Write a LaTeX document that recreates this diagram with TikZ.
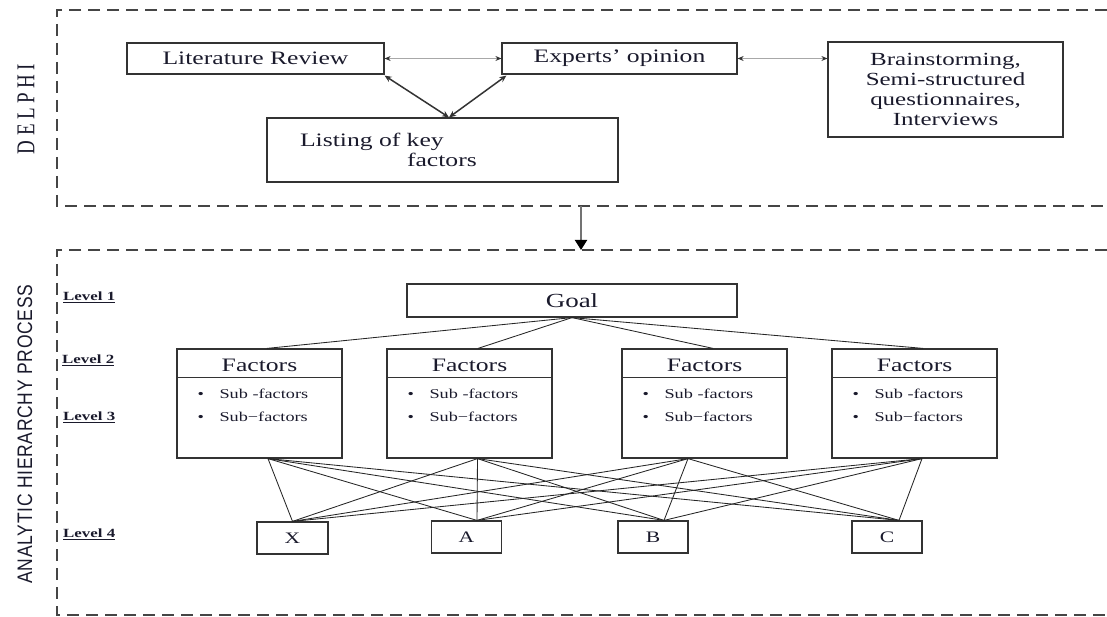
\documentclass[tikz,border=0pt]{standalone}
\usepackage{graphicx}
\usepackage{fontspec}
\setmainfont{Liberation Serif}[FakeStretch=1.35]
\newfontfamily\plainserif{Liberation Serif}
\newfontfamily\ahpsans{Liberation Sans}
\usetikzlibrary{arrows.meta}
\definecolor{ink}{HTML}{1A1A2C}
\definecolor{edgec}{HTML}{333333}
\definecolor{dashc}{HTML}{454545}
\definecolor{lightarr}{HTML}{A8A8A8}
\begin{document}
\begin{tikzpicture}[x=1pt,y=-1pt,
  every node/.style={text=ink},
  box/.style={draw=edgec, line width=1.2pt, inner sep=0pt},
  boxline/.style={draw=edgec, line width=1.2pt},
  sect/.style={draw=dashc, line width=1.1pt, dash pattern=on 12pt off 7pt},
  big/.style={font=\fontsize{19}{22}\selectfont},
  subtxt/.style={font=\fontsize{13.5}{23}\selectfont, align=left, inner sep=0pt},
  leaf/.style={font=\fontsize{16}{18}\selectfont},
  lvl/.style={font=\bfseries\fontsize{12.5}{14}\selectfont, inner sep=0pt},
  conn/.style={draw=black!85, line width=0.85pt},
  grayarr/.style={draw=lightarr, line width=1.2pt, {Stealth[length=6pt,width=5pt,color=black!80]}-{Stealth[length=6pt,width=5pt,color=black!80]}},
  darkarr/.style={draw=edgec, line width=1.5pt, {Stealth[length=7pt,width=6pt]}-{Stealth[length=7pt,width=6pt]}},
  downarr/.style={draw=black!55, line width=2pt, -{Triangle[length=10pt,width=12pt,color=black]}}
]
\useasboundingbox (0,0) rectangle (1107,617);

% section frames
\draw[sect] (1107,10) -- (57,10) -- (57,206) -- (1107,206);
\draw[sect] (1107,250) -- (57,250) -- (57,615) -- (1107,615);

% side titles
\node[rotate=90, inner sep=0pt] (delphi) at (26,109)
  {\scalebox{1}[1.35]{\plainserif\fontsize{19}{21}\selectfont D\kern4.5pt E\kern4.5pt L\kern4.5pt P\kern4.5pt H\kern4.5pt I}};
\node[rotate=90, inner sep=0pt] (ahp) at (25,434)
  {\scalebox{1}[1.2]{\ahpsans\fontsize{17.5}{20}\selectfont\addfontfeature{LetterSpace=4}ANALYTIC HIERARCHY PROCESS}};

% DELPHI part
\node[box, big, minimum width=257pt, minimum height=31pt] (lit) at (255.5,58.5) {Literature Review};
\node[box, big, minimum width=235pt, minimum height=31pt] (exp) at (619.5,58.5) {Experts' opinion};
\node[box, minimum width=235pt, minimum height=95pt, align=center,
      font=\fontsize{18.5}{20}\selectfont] (brain) at (945.5,89.5)
  {Brainstorming,\\Semi-structured\\questionnaires,\\Interviews};
\node[box, minimum height=64pt, text width=285pt, inner xsep=33pt, align=left,
      font=\fontsize{19}{20}\selectfont] (list) at (442.5,150)
  {Listing of key\\\hspace*{107pt}factors};

\draw[grayarr] (lit) -- (exp);
\draw[grayarr] (exp.east) -- (brain.west |- exp.east);
\coordinate (listtop) at ([xshift=6.5pt]list.north);
\coordinate (litcorner) at ([yshift=-1pt]lit.south east);
\coordinate (expcorner) at ([xshift=5pt,yshift=-1pt]exp.south west);
\draw[darkarr] (litcorner) -- (listtop);
\draw[darkarr] (expcorner) -- (listtop);

% link between sections
\coordinate (secA) at (581,206);
\coordinate (secB) at (581,250);
\draw[downarr] (secA) -- (secB);

% level labels
\node[lvl, anchor=west] (l1) at (63,297) {\underline{Level 1}};
\node[lvl, anchor=west] (l2) at (62,360) {\underline{Level 2}};
\node[lvl, anchor=west] (l3) at (63,417) {\underline{Level 3}};
\node[lvl, anchor=west] (l4) at (63,534) {\underline{Level 4}};

% AHP part
\node[box, minimum width=330pt, minimum height=33pt, font=\fontsize{20}{22}\selectfont] (goal) at (572,300.5) {Goal};

\foreach \n/\cx in {f1/259.5, f2/469.5, f3/704.5, f4/914.5}{
  \node[box, minimum width=165pt, minimum height=109pt] (\n) at (\cx,403.5) {};
  \draw[boxline] ([yshift=-29pt]\n.north west) -- ([yshift=-29pt]\n.north east);
  \node[big] (\n h) at ([yshift=-17pt]\n.north) {Factors};
  \node[subtxt, anchor=west] (\n s) at ([xshift=21pt,yshift=-56.5pt]\n.north west)
    {\makebox[22pt][l]{\textbullet}Sub -factors\\\makebox[22pt][l]{\textbullet}Sub−factors};
}

\node[box, leaf, minimum width=71pt, minimum height=32pt] (X) at (292.5,538) {X};
\node[box, leaf, minimum width=70pt, minimum height=32pt] (A) at (466.5,537) {A};
\node[box, leaf, minimum width=70pt, minimum height=32pt] (B) at (653,537) {B};
\node[box, leaf, minimum width=70pt, minimum height=32pt] (C) at (887,537) {C};

% connection points
\coordinate (f1t) at ([xshift=7.5pt]f1.north);
\coordinate (f2t) at ([xshift=8.5pt]f2.north);
\coordinate (f3t) at ([xshift=8.5pt]f3.north);
\coordinate (f4t) at ([xshift=8.5pt]f4.north);
\coordinate (f1b) at ([xshift=8.5pt]f1.south);
\coordinate (f2b) at ([xshift=8pt]f2.south);
\coordinate (f3b) at ([xshift=-16.5pt]f3.south);
\coordinate (f4b) at ([xshift=7.5pt]f4.south);
\coordinate (Xt) at (X.north);
\coordinate (At) at ([xshift=10.5pt]A.north);
\coordinate (Bt) at ([xshift=11pt]B.north);
\coordinate (Ct) at ([xshift=12pt]C.north);

\foreach \f in {f1t,f2t,f3t,f4t}{ \draw[conn] (goal.south) -- (\f); }
\foreach \f in {f1b,f2b,f3b,f4b}{
  \foreach \l in {Xt,At,Bt,Ct}{ \draw[conn] (\f) -- (\l); }
}
\end{tikzpicture}
\end{document}
